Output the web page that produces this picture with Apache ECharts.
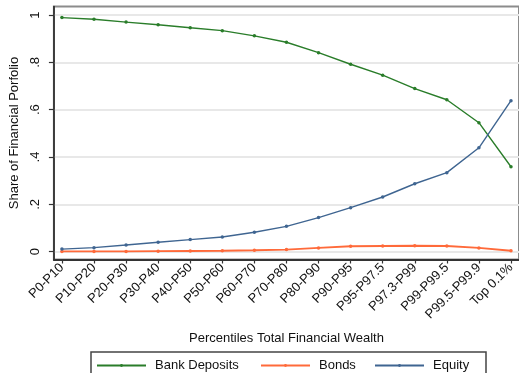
<!DOCTYPE html>
<html>
<head>
<meta charset="utf-8">
<script src="https://cdn.jsdelivr.net/npm/echarts@6/dist/echarts.min.js"></script>
<style>
  html, body { margin: 0; padding: 0; background: #fff; }
  #chart { width: 519px; height: 373px; }
</style>
</head>
<body>
<div id="chart"></div>
<script>
// Portfolio shares by percentile of total financial wealth
const categories = ['P0-P10', 'P10-P20', 'P20-P30', 'P30-P40', 'P40-P50', 'P50-P60',
  'P60-P70', 'P70-P80', 'P80-P90', 'P90-P95', 'P95-P97.5', 'P97.3-P99',
  'P99-P99.5', 'P99.5-P99.9', 'Top 0.1%'];
const bankDeposits = [0.989, 0.982, 0.970, 0.959, 0.946, 0.934, 0.912, 0.885, 0.841,
  0.792, 0.746, 0.689, 0.642, 0.545, 0.359];
const bonds = [0.001, 0.001, 0.001, 0.002, 0.003, 0.004, 0.006, 0.009, 0.016,
  0.023, 0.024, 0.025, 0.024, 0.016, 0.004];
const equity = [0.011, 0.017, 0.028, 0.040, 0.051, 0.062, 0.082, 0.107, 0.144,
  0.186, 0.231, 0.287, 0.334, 0.439, 0.638];
const yTicks = [0, 0.2, 0.4, 0.6, 0.8, 1];

const FONT = 'Liberation Sans, Arial, sans-serif';
const colors = { bank: '#2a7d2a', bonds: '#ff6a3a', equity: '#3f6591' };

const toPoints = arr => arr.map((v, i) => [i, v]);
const xIdx = categories.map((_, i) => i);

function lineSeries(name, values, color, width) {
  return {
    name: name,
    type: 'line',
    data: toPoints(values),
    symbol: 'circle',
    symbolSize: 3.5,
    showSymbol: true,
    lineStyle: { color: color, width: width },
    itemStyle: { color: color },
    emphasis: { disabled: true },
    animation: false
  };
}

function legendAt(left, name) {
  return {
    data: [name],
    left: left,
    top: 359,
    orient: 'horizontal',
    itemWidth: 49,
    itemHeight: 3.5,
    padding: 0,
    selectedMode: false,
    textStyle: { fontFamily: FONT, fontSize: 13, color: '#111', padding: [0, 0, 0, 4] }
  };
}

const chart = echarts.init(document.getElementById('chart'), null, { renderer: 'canvas' });
chart.setOption({
  backgroundColor: '#fff',
  animation: false,
  grid: {
    left: 45, right: -1, top: 6.5, bottom: 113.5,
    show: true, borderColor: '#8c8c8c', borderWidth: 2, backgroundColor: 'transparent'
  },
  xAxis: {
    type: 'value',
    min: -0.25,
    max: 14.25,
    name: 'Percentiles Total Financial Wealth',
    nameLocation: 'middle',
    nameGap: 72,
    nameTextStyle: { fontFamily: FONT, fontSize: 13, color: '#111' },
    axisLine: { show: true, onZero: false, lineStyle: { color: '#333', width: 2 } },
    axisTick: { show: true, length: 4, customValues: xIdx, lineStyle: { color: '#333', width: 1.2 } },
    axisLabel: {
      customValues: xIdx,
      rotate: 45,
      margin: 6,
      fontFamily: FONT,
      fontSize: 13,
      color: '#111',
      formatter: v => categories[Math.round(v)]
    },
    splitLine: { show: false }
  },
  yAxis: {
    type: 'value',
    min: -0.033,
    max: 1.036,
    name: 'Share of Financial Porfolio',
    nameLocation: 'middle',
    nameGap: 30,
    nameTextStyle: { fontFamily: FONT, fontSize: 13, color: '#111' },
    axisLine: { show: true, onZero: false, lineStyle: { color: '#222', width: 1.5 } },
    axisTick: { show: true, length: 5, customValues: yTicks, lineStyle: { color: '#333', width: 1.2 } },
    axisLabel: {
      customValues: yTicks,
      rotate: 90,
      margin: 12,
      fontFamily: FONT,
      fontSize: 13,
      color: '#111',
      formatter: v => (v === 0 ? '0' : v === 1 ? '1' : String(+v.toFixed(1)).replace(/^0/, ''))
    },
    splitLine: { show: true, lineStyle: { color: '#e8e8e8', width: 2 } }
  },
  legend: [
    legendAt(96, 'Bank Deposits'),
    legendAt(260, 'Bonds'),
    legendAt(374, 'Equity')
  ],
  graphic: [{
    type: 'rect',
    shape: { x: 91, y: 352, width: 395, height: 32 },
    style: { fill: 'none', stroke: '#444', lineWidth: 1.5 },
    silent: true
  }],
  series: [
    lineSeries('Bank Deposits', bankDeposits, colors.bank, 1.4),
    lineSeries('Bonds', bonds, colors.bonds, 1.8),
    lineSeries('Equity', equity, colors.equity, 1.4)
  ]
});
</script>
</body>
</html>
